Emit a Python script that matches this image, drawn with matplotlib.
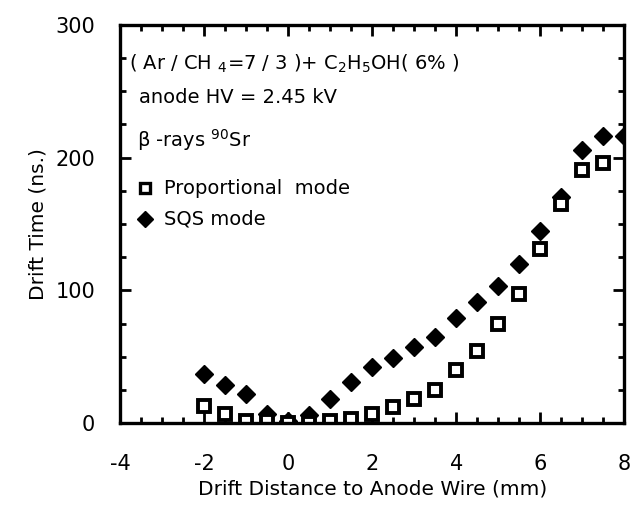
import matplotlib.pyplot as plt
from matplotlib.ticker import MultipleLocator

plt.rcParams['font.family'] = ['DejaVu Sans']
plt.rcParams['mathtext.fontset'] = 'dejavusans'
plt.rcParams['axes.unicode_minus'] = False

# drift distance (mm)
x_prop = [-2, -1.5, -1, -0.5, 0, 0.5, 1, 1.5, 2, 2.5, 3, 3.5, 4, 4.5, 5, 5.5, 6, 6.5, 7, 7.5]
t_prop = [13, 7, 2, 2, 0, 0, 2, 3, 7, 12, 18, 25, 40, 54, 75, 97, 131, 165, 191, 196]

x_sqs = [-2, -1.5, -1, -0.5, 0, 0.5, 1, 1.5, 2, 2.5, 3, 3.5, 4, 4.5, 5, 5.5, 6, 6.5, 7, 7.5, 8]
t_sqs = [37, 29, 22, 7, 2, 6, 18, 31, 42, 49, 57, 65, 79, 91, 103, 120, 145, 170, 206, 216, 216]

fig = plt.figure(figsize=(6.39, 5.08), dpi=100)
ax = fig.add_axes([0.188, 0.167, 0.789, 0.784])

ax.plot(x_sqs, t_sqs, "kD", markersize=9, linestyle="none")
ax.plot(x_prop, t_prop, "s", markersize=8, markerfacecolor="white",
        markeredgecolor="black", markeredgewidth=2.8, linestyle="none")

ax.set_xlim(-4, 8)
ax.set_ylim(0, 300)
ax.xaxis.set_major_locator(MultipleLocator(2))
ax.xaxis.set_minor_locator(MultipleLocator(0.5))
ax.yaxis.set_major_locator(MultipleLocator(100))
ax.yaxis.set_minor_locator(MultipleLocator(25))
ax.tick_params(which="both", direction="in", top=True, right=True, width=2, labelsize=15)
ax.tick_params(which="major", length=8)
ax.tick_params(axis="x", which="major", pad=22)
ax.tick_params(axis="y", which="major", pad=18)
ax.tick_params(which="minor", length=4)
for s in ax.spines.values():
    s.set_linewidth(2.4)

ax.set_xlabel("Drift Distance to Anode Wire (mm)", fontsize=14.5, labelpad=4)
ax.set_ylabel("Drift Time (ns.)", fontsize=14.5, labelpad=6)

ax.text(-3.8, 271, r"( Ar / CH $_{4}$=7 / 3 )+ C$_2$H$_5$OH( 6% )", fontsize=14, va="center")
ax.text(-3.55, 245, "anode HV = 2.45 kV", fontsize=14, va="center")
ax.text(-3.6, 213, r"β -rays $^{90}$Sr", fontsize=14, va="center")
ax.plot([-3.4], [177], "s", markersize=7, markerfacecolor="white",
        markeredgecolor="black", markeredgewidth=2.4)
ax.text(-2.95, 177, "Proportional  mode", fontsize=14, va="center")
ax.plot([-3.4], [154], "kD", markersize=8)
ax.text(-2.95, 154, "SQS mode", fontsize=14, va="center")

fig.savefig("out.png", dpi=100)
